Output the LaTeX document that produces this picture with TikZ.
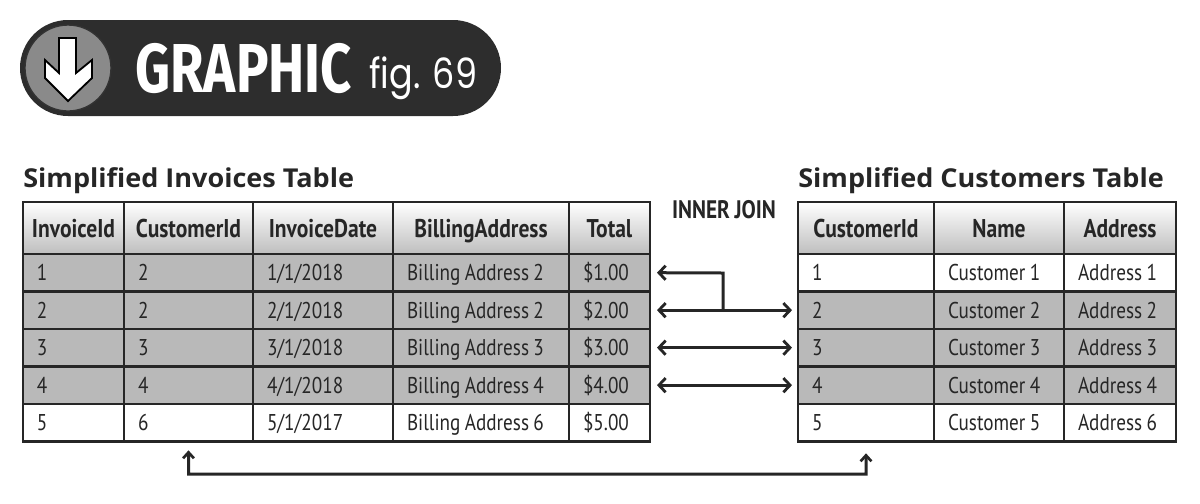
\documentclass[tikz,border=0pt]{standalone}
\usepackage{fontspec}
\usepackage{graphicx}
\usetikzlibrary{arrows.meta}
\newfontfamily\cellfont[FakeStretch=0.84,WordSpace=0.6]{PT Sans}
\newfontfamily\headfont[FakeStretch=0.84,WordSpace=0.85]{PT Sans}
\newfontfamily\titlefont[FakeStretch=1.04]{Open Sans}
\newfontfamily\bannerfont{Fira Sans}
\newfontfamily\figfont[FakeStretch=0.84]{Poppins}
\definecolor{bannerdark}{HTML}{2D2D2D}
\definecolor{circlegray}{HTML}{8A8A8A}
\definecolor{rowgray}{HTML}{B9B9B9}
\definecolor{headgray}{HTML}{BEBEBE}
\definecolor{inkdark}{HTML}{262626}
\tikzset{
	cell/.style 2 args={draw=inkdark, line width=1.6pt, fill=#2, anchor=north west, outer sep=0pt, inner xsep=8.4pt, inner ysep=0pt,
		minimum height=22.4pt, text width=#1*0.6pt-16.8pt, align=flush left, text height=10.9pt, text depth=1.3pt,
		text=inkdark, font=\cellfont\fontsize{13.7}{15}\selectfont},
	headcell/.style={draw=inkdark, line width=1.6pt, top color=white, bottom color=headgray, anchor=north west, outer sep=0pt,
		inner sep=0pt, minimum width=#1*0.6pt, minimum height=31.2pt, align=center, text=inkdark,
		text height=12.3pt, text depth=0.9pt, font=\headfont\bfseries\fontsize{15.4}{17}\selectfont},
	tabletitle/.style={anchor=base west, inner sep=0pt, text=inkdark, font=\titlefont\bfseries\fontsize{15.6}{18}\selectfont},
	joinarrow/.style={draw=inkdark, line width=1.8pt, >={Straight Barb[length=4pt,width=8.5pt,line width=1.7pt]}},
}
\begin{document}
\begin{tikzpicture}[x=0.6pt,y=-0.6pt]
	\useasboundingbox (0,0) rectangle (1200,503);
	%banner
	\fill[bannerdark, rounded corners=28.8pt] (20,20) rectangle (501,116);
	\draw[fill=circlegray, draw=black!80, line width=0.8pt] (68,68) circle [radius=43];
	\draw[fill=white, draw=black, line width=1.1pt, line join=miter] (59,38) -- (76,38) -- (76,73) -- (92,60) -- (92,78) -- (68,101) -- (45,78) -- (45,60) -- (59,73) -- cycle;
	\node[anchor=west, inner sep=0pt, text=white] (bannerword) at (135,68) {\resizebox{130pt}{29.5pt}{\bannerfont\bfseries GRAPHIC}};
	\node[anchor=base west, inner sep=0pt, text=white, font=\figfont\fontsize{25}{28}\selectfont] (bannerfig) at (369,88) {fig. 69};
	%titles
	\node[tabletitle] (invtitle) at (23,187) {Simplified Invoices Table};
	\node[tabletitle] (custitle) at (798,187) {Simplified Customers Table};
	\node[anchor=base, inner sep=0pt, text=inkdark, font=\headfont\bfseries\fontsize{15.2}{17}\selectfont] (joinlabel) at (724,218) {INNER JOIN};
	%invoices table
	\foreach \col/\x/\w/\head in {1/23/101/InvoiceId,2/124/129/CustomerId,3/253/140/InvoiceDate,4/393/176/BillingAddress,5/569/81/Total}
		\node[headcell=\w] (inv-0-\col) at (\x,202) {\head};
	\foreach \row/\y/\rowfill/\ci/\cii/\ciii/\civ/\cv in {
		1/254/rowgray/1/2/{1/1/2018}/Billing Address 2/\$1.00,
		2/291.5/rowgray/2/2/{2/1/2018}/Billing Address 2/\$2.00,
		3/329/rowgray/3/3/{3/1/2018}/Billing Address 3/\$3.00,
		4/366.5/rowgray/4/4/{4/1/2018}/Billing Address 4/\$4.00,
		5/404/white/5/6/{5/1/2017}/Billing Address 6/\$5.00}{
		\node[cell={101}{\rowfill}] (inv-\row-1) at (23,\y) {\ci};
		\node[cell={129}{\rowfill}] (inv-\row-2) at (124,\y) {\cii};
		\node[cell={140}{\rowfill}] (inv-\row-3) at (253,\y) {\ciii};
		\node[cell={176}{\rowfill}] (inv-\row-4) at (393,\y) {\civ};
		\node[cell={81}{\rowfill}] (inv-\row-5) at (569,\y) {\cv};
	}
	%customers table
	\foreach \col/\x/\w/\head in {1/798/136/CustomerId,2/934/130/Name,3/1064/112/Address}
		\node[headcell=\w] (cus-0-\col) at (\x,202) {\head};
	\foreach \row/\y/\rowfill/\ci/\cii/\ciii in {
		1/254/white/1/Customer 1/Address 1,
		2/291.5/rowgray/2/Customer 2/Address 2,
		3/329/rowgray/3/Customer 3/Address 3,
		4/366.5/rowgray/4/Customer 4/Address 4,
		5/404/white/5/Customer 5/Address 6}{
		\node[cell={136}{\rowfill}] (cus-\row-1) at (798,\y) {\ci};
		\node[cell={130}{\rowfill}] (cus-\row-2) at (934,\y) {\cii};
		\node[cell={112}{\rowfill}] (cus-\row-3) at (1064,\y) {\ciii};
	}
	%connectors
	\coordinate (joinbend) at (723,273);
	\coordinate (joinfoot) at (723,310);
	\draw[joinarrow, <-, shorten <=4.2pt] (inv-1-5.east) -- (joinbend) -- (joinfoot);
	\foreach \row in {2,3,4}
		\draw[joinarrow, <->, shorten <=4.2pt, shorten >=3.6pt] (inv-\row-5.east) -- (cus-\row-1.west);
	\coordinate (lowleft) at (188.5,474);
	\coordinate (lowright) at (866,474);
	\draw[draw=inkdark, line width=1.8pt, >={Straight Barb[length=3.6pt,width=6.5pt,line width=1.6pt]}, <->, shorten <=5.4pt, shorten >=7.2pt] (inv-5-2.south) -- (lowleft) -- (lowright) -- (cus-5-1.south);
\end{tikzpicture}
\end{document}
